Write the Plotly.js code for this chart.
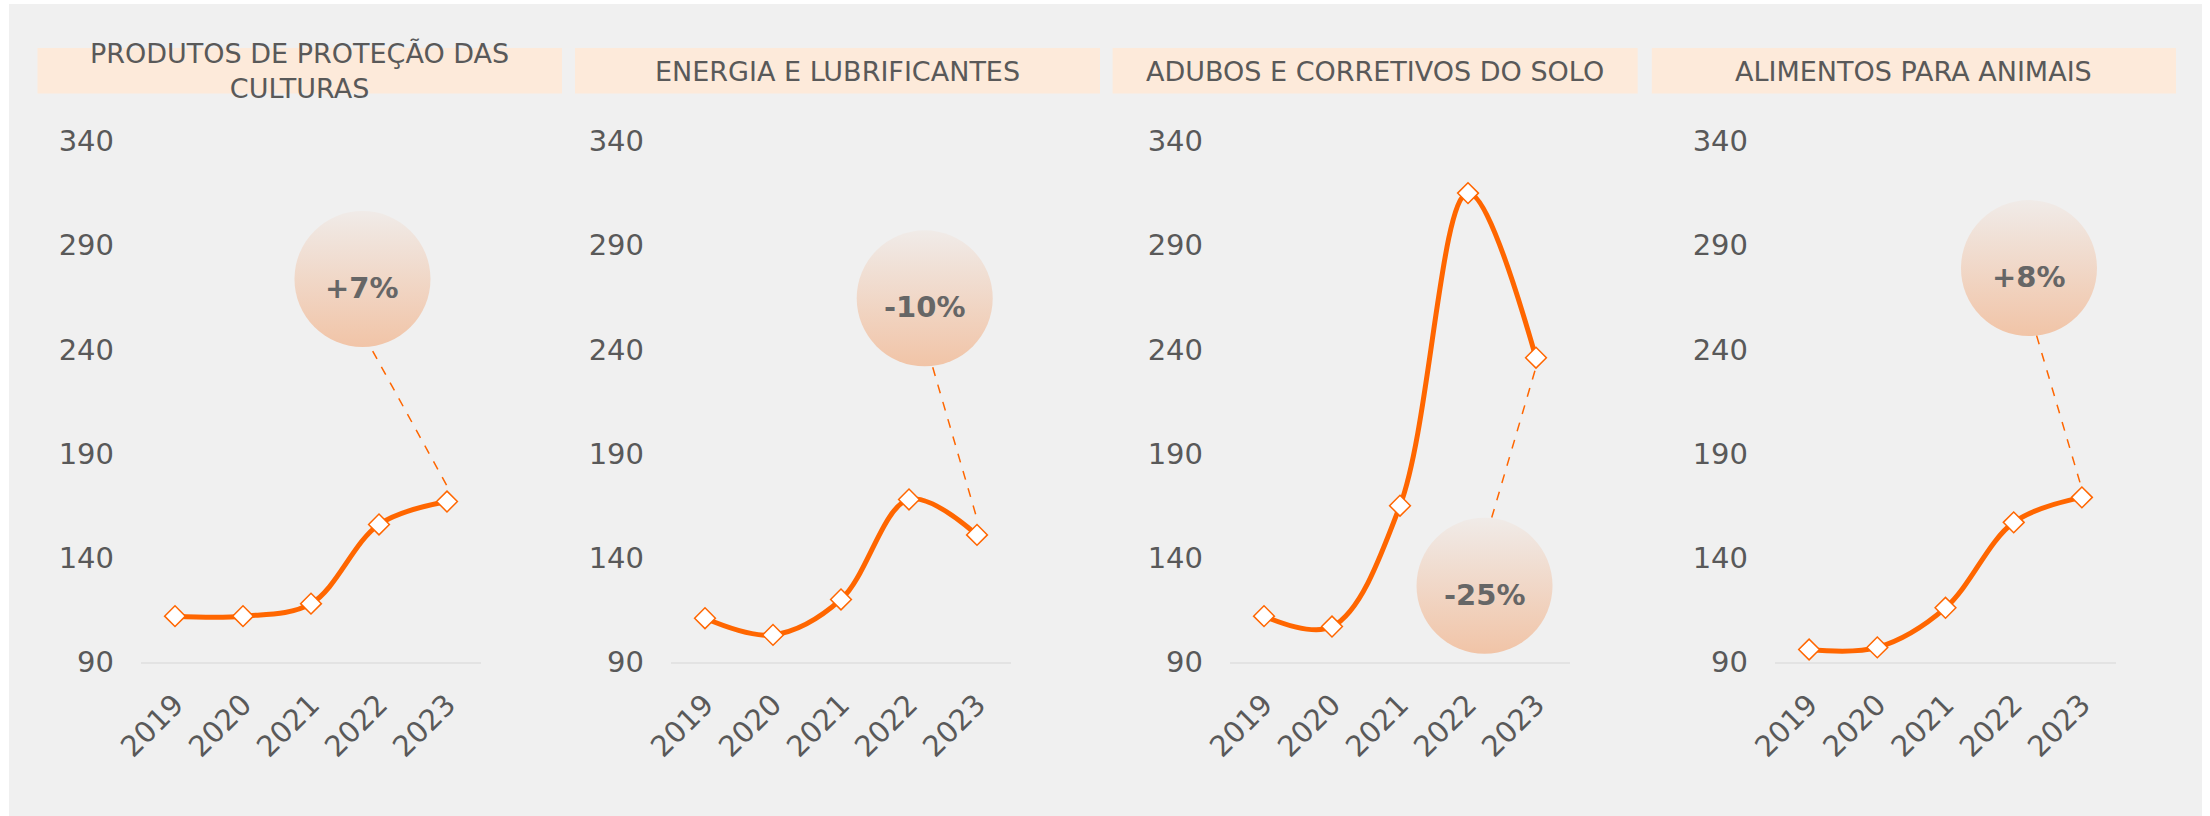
<!DOCTYPE html>
<html>
<head>
<meta charset="utf-8">
<script src="https://cdn.plot.ly/plotly-3.0.1.min.js"></script>
<style>html,body{margin:0;padding:0;background:#fff;}#chart{width:2210px;height:816px;}</style>
</head>
<body>
<div id="chart"></div>
<script>
// ---------- DATA ----------
const years = [2019, 2020, 2021, 2022, 2023];
const yearLabels = ['2019', '2020', '2021', '2022', '2023'];
const panelTitles = [
  'PRODUTOS DE PROTEÇÃO DAS<br>CULTURAS',
  'ENERGIA E LUBRIFICANTES',
  'ADUBOS E CORRETIVOS DO SOLO',
  'ALIMENTOS PARA ANIMAIS'
];
const protecaoCulturas = [112, 112, 118, 156, 167];
const energiaLubrificantes = [111, 103, 120, 168, 151];
const adubosCorretivos = [112, 107, 165, 315, 236];
const alimentosAnimais = [96, 97, 116, 157, 169];
const changeLabels = ['+7%', '-10%', '-25%', '+8%'];
const yTicks = [90, 140, 190, 240, 290, 340];

const series = [protecaoCulturas, energiaLubrificantes, adubosCorretivos, alimentosAnimais];

// ---------- LAYOUT / STYLE (positions) ----------
const W = 2210, H = 816;
const plotX = [[141, 481], [671, 1011], [1230, 1570], [1775, 2116]]; // px
const plotY = [141, 662]; // px top, bottom
const ribbons = [[37.5, 562], [575, 1100], [1112.6, 1637.7], [1651.8, 2176]];
// bubble centre in data units (x in years, y in value)
const bubblePos = [[2021.757, 273.8], [2022.231, 264.5], [2022.243, 126.6], [2022.224, 279]];
// leader line start (bubble edge) in data units, and offset at end from the 2023 value
const leaderStart = [[2021.907, 239.2], [2022.349, 231.4], [2022.349, 159.3], [2022.336, 246.6]];
const leaderEndOffset = [7.5, 7.7, -4.5, 4];

const ORANGE = '#FF6600';
const FONT = 'DejaVu Sans, Verdana, sans-serif';
const GREY_TXT = '#595959';

const traces = [];
const layout = {
  width: W, height: H,
  margin: {l: 0, r: 0, t: 0, b: 0},
  paper_bgcolor: '#ffffff',
  plot_bgcolor: 'rgba(0,0,0,0)',
  showlegend: false,
  font: {family: FONT, color: GREY_TXT},
  shapes: [],
  annotations: []
};

// grey background
layout.shapes.push({type: 'rect', xref: 'paper', yref: 'paper', x0: 9 / W, x1: 2202 / W, y0: 0, y1: 1 - 4 / H,
  fillcolor: '#f0f0f0', line: {width: 0}, layer: 'below'});

for (let i = 0; i < 4; i++) {
  const sfx = i === 0 ? '' : String(i + 1);
  const xa = 'xaxis' + sfx, ya = 'yaxis' + sfx;
  const xr = 'x' + sfx, yr = 'y' + sfx;

  layout[xa] = {
    domain: [plotX[i][0] / W, plotX[i][1] / W],
    anchor: yr,
    type: 'linear',
    range: [years[0] - 0.5, years[years.length - 1] + 0.5],
    tickmode: 'array', tickvals: years, ticktext: yearLabels,
    tickangle: -45,
    tickfont: {family: FONT, size: 29, color: GREY_TXT},
    showgrid: false, zeroline: false,
    showline: true, linecolor: '#e3e3e3', linewidth: 2,
    ticks: '', ticklabelstandoff: 12,
    fixedrange: true
  };
  layout[ya] = {
    domain: [1 - plotY[1] / H, 1 - plotY[0] / H],
    anchor: xr,
    range: [90, 340],
    tickmode: 'array', tickvals: yTicks,
    tickfont: {family: FONT, size: 29, color: GREY_TXT},
    showgrid: false, zeroline: false, showline: false,
    ticks: '', ticklabelstandoff: 26,
    fixedrange: true
  };

  // ribbon
  layout.shapes.push({type: 'rect', xref: 'paper', yref: 'paper',
    x0: ribbons[i][0] / W, x1: ribbons[i][1] / W, y0: 1 - 93.5 / H, y1: 1 - 48 / H,
    fillcolor: '#fdeada', line: {width: 0}, layer: 'below'});
  // title
  layout.annotations.push({xref: 'paper', yref: 'paper',
    x: (ribbons[i][0] + ribbons[i][1]) / 2 / W, y: 1 - 71 / H,
    xanchor: 'center', yanchor: 'middle', showarrow: false,
    text: panelTitles[i], font: {family: FONT, size: 27, color: GREY_TXT}});

  // leader line
  const vals = series[i];
  layout.shapes.push({type: 'line', xref: xr, yref: yr,
    x0: leaderStart[i][0], y0: leaderStart[i][1],
    x1: years[years.length - 1], y1: vals[vals.length - 1] + leaderEndOffset[i],
    line: {color: ORANGE, width: 1.5, dash: 'dash'}, layer: 'above'});

  // bubble
  traces.push({type: 'scatter', mode: 'markers', xaxis: xr, yaxis: yr,
    x: [bubblePos[i][0]], y: [bubblePos[i][1]], hoverinfo: 'skip', cliponaxis: false,
    marker: {size: 136, color: '#f0ebe8', line: {width: 0},
      gradient: {type: 'vertical', color: '#f1c4a7'}}});
  layout.annotations.push({xref: xr, yref: yr, x: bubblePos[i][0], y: bubblePos[i][1],
    yshift: -9, showarrow: false, text: '<b>' + changeLabels[i] + '</b>',
    font: {family: FONT, size: 29, color: '#666666'}});

  // main series line
  traces.push({type: 'scatter', mode: 'lines+markers', xaxis: xr, yaxis: yr,
    x: years, y: vals, cliponaxis: false,
    line: {color: ORANGE, width: 5, shape: 'spline', smoothing: 1},
    marker: {symbol: 'diamond', size: 16, color: '#ffffff', line: {color: ORANGE, width: 1.5}}});
}

Plotly.newPlot('chart', traces, layout, {displayModeBar: false, staticPlot: true});
</script>
</body>
</html>
